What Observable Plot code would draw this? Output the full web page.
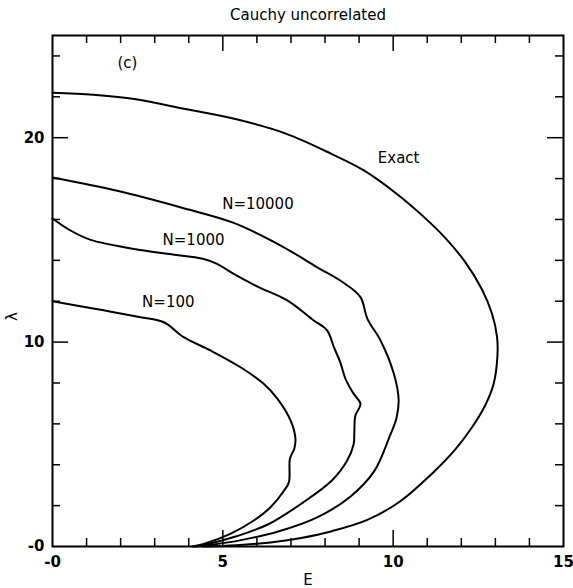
<!DOCTYPE html>
<html><head><meta charset="utf-8">
<script src="https://cdn.jsdelivr.net/npm/d3@7"></script>
<script src="https://cdn.jsdelivr.net/npm/@observablehq/plot@0.6"></script>
<style>
html,body{margin:0;padding:0;background:#fff;}
</style></head><body><div id="chart"></div>
<script>
const title = "Cauchy uncorrelated";
const xLabel = "E";
const yLabel = "λ";
const xTickLabels = [0, 5, 10, 15];
const yTickLabels = [0, 10, 20];
const xMinorTicks = [1, 2, 3, 4, 6, 7, 8, 9, 11, 12, 13, 14];
const xMajorTicks = [5, 10];
const yMinorTicks = [2, 4, 6, 8, 12, 14, 16, 18, 22, 24];
const yMajorTicks = [10, 20];

const exactE = [0, 1.2, 2.35, 3.9, 5.4, 6.85, 8.2, 9.14, 10.1, 10.85, 11.5, 12.1, 12.6, 12.9, 13.05, 13.06, 12.95, 12.7, 12.3, 11.8, 11.1, 10.2, 9.24, 8.2, 7.3, 6.4, 5.4, 4.4];
const exactL = [22.2, 22.1, 21.9, 21.4, 20.9, 20.2, 19.2, 18.4, 17.26, 16.2, 15.15, 13.95, 12.6, 11.4, 10.24, 9.3, 7.96, 6.9, 5.8, 4.7, 3.5, 2.2, 1.3, 0.75, 0.42, 0.2, 0.06, 0];

const n10000E = [0, 1.9, 3.85, 5.32, 6.79, 7.77, 8.5, 9.04, 9.24, 9.63, 10.02, 10.16, 10.1, 9.9, 9.45, 8.75, 7.8, 6.6, 5.5, 4.6, 4.2];
const n10000L = [18.05, 17.4, 16.55, 15.83, 14.64, 13.66, 12.95, 12.2, 11.15, 10.08, 8.45, 7.2, 6.3, 5.4, 3.7, 2.45, 1.45, 0.72, 0.3, 0.07, 0];

const n1000E = [0, 0.53, 1.12, 2.39, 3.37, 4.44, 4.83, 5.32, 6.05, 6.89, 7.67, 8.06, 8.26, 8.45, 8.6, 8.84, 9.04, 8.89, 8.86, 8.84, 8.65, 8.2, 7.35, 6.35, 5.4, 4.5, 4.15];
const n1000L = [16.05, 15.46, 15.0, 14.56, 14.32, 14.07, 13.83, 13.34, 12.69, 12.04, 11.06, 10.57, 9.75, 9.0, 8.2, 7.47, 6.98, 6.4, 5.6, 5.0, 4.21, 3.23, 2.15, 1.1, 0.5, 0.1, 0];

const n100E = [0, 1.41, 2.58, 3.27, 3.85, 4.64, 5.52, 6.2, 6.6, 6.99, 7.13, 7.1, 6.97, 6.94, 6.8, 6.4, 5.91, 5.22, 4.44, 4.1];
const n100L = [12.0, 11.58, 11.22, 10.97, 10.24, 9.59, 8.77, 7.96, 7.23, 6.16, 5.3, 4.8, 4.3, 3.15, 2.74, 1.92, 1.27, 0.62, 0.13, 0];

const seriesNames = ["Exact", "N=10000", "N=1000", "N=100"];
const labelTexts = ["(c)", "Exact", "N=10000", "N=1000", "N=100"];
const labelE = [2.2, 10.16, 6.03, 4.14, 3.4];
const labelL = [23.63, 18.98, 16.73, 14.97, 11.94];

const seriesE = [exactE, n10000E, n1000E, n100E];
const seriesL = [exactL, n10000L, n1000L, n100L];
const rows = [];
seriesNames.forEach((s, k) => seriesE[k].forEach((e, i) => rows.push({series: s, E: e, L: seriesL[k][i]})));
const labels = labelTexts.map((t, i) => ({text: t, E: labelE[i], L: labelL[i]}));

const W = 573, H = 588, mL = 52, mR = 10, mT = 35, mB = 42;
const fw = W - mL - mR, fh = H - mT - mB;
const fmt = d => d === 0 ? "-0" : String(d);
const ink = "#000";

const chart = Plot.plot({
  width: W, height: H,
  marginLeft: mL, marginRight: mR, marginTop: mT, marginBottom: mB,
  style: {fontFamily: "DejaVu Sans", fontSize: "15px", color: ink, background: "#fff"},
  x: {domain: [0, 15]},
  y: {domain: [0, 25]},
  marks: [
    Plot.frame({stroke: ink, strokeWidth: 2}),
    Plot.tickX(xMinorTicks, {x: d => d, insetTop: fh - 8, stroke: ink, strokeWidth: 1.5}),
    Plot.tickX(xMinorTicks, {x: d => d, insetBottom: fh - 8, stroke: ink, strokeWidth: 1.5}),
    Plot.tickX(xMajorTicks, {x: d => d, insetTop: fh - 16, stroke: ink, strokeWidth: 1.5}),
    Plot.tickX(xMajorTicks, {x: d => d, insetBottom: fh - 16, stroke: ink, strokeWidth: 1.5}),
    Plot.tickY(yMinorTicks, {y: d => d, insetRight: fw - 8, stroke: ink, strokeWidth: 1.5}),
    Plot.tickY(yMinorTicks, {y: d => d, insetLeft: fw - 8, stroke: ink, strokeWidth: 1.5}),
    Plot.tickY(yMajorTicks, {y: d => d, insetRight: fw - 16, stroke: ink, strokeWidth: 1.5}),
    Plot.tickY(yMajorTicks, {y: d => d, insetLeft: fw - 16, stroke: ink, strokeWidth: 1.5}),
    Plot.axisX({ticks: xTickLabels, tickSize: 0, tickPadding: 10, tickFormat: fmt, label: null, fontSize: 15, fontWeight: "bold"}),
    Plot.axisY({ticks: yTickLabels, tickSize: 0, tickPadding: 8, tickFormat: fmt, label: null, fontSize: 15, fontWeight: "bold"}),
    Plot.line(rows, {x: "E", y: "L", z: "series", stroke: ink, strokeWidth: 2, curve: "catmull-rom"}),
    Plot.text(labels, {x: "E", y: "L", text: "text", fontSize: 15, fill: ink}),
    Plot.text([title], {frameAnchor: "top", lineAnchor: "middle", dy: -20, fontSize: 15, fill: ink}),
    Plot.text([xLabel], {frameAnchor: "bottom", lineAnchor: "middle", dy: 34, fontSize: 15, fill: ink}),
    Plot.text([yLabel], {frameAnchor: "left", lineAnchor: "middle", dx: -40, dy: 30, rotate: -90, fontSize: 15, fill: ink})
  ]
});
document.getElementById("chart").appendChild(chart);
</script>
</body></html>
